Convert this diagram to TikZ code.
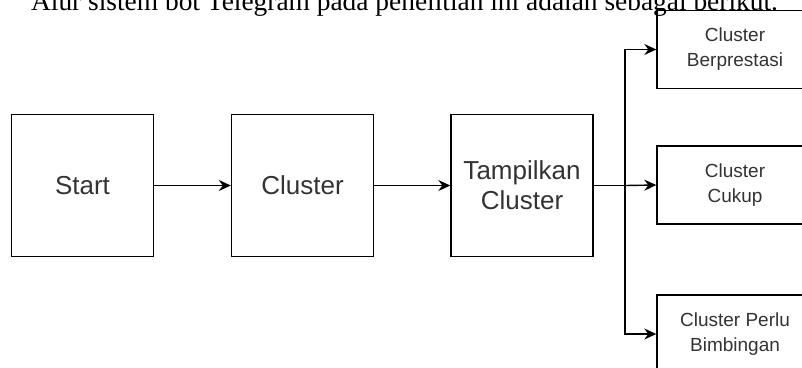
\documentclass[tikz,border=0pt]{standalone}
\usepackage{fontspec}
\setmainfont{Liberation Sans}
\newfontfamily\titlefont{Liberation Serif}
\usetikzlibrary{arrows.meta}
\definecolor{txt}{HTML}{333333}
\tikzset{
  bigbox/.style={draw=black, line width=1.4pt, minimum width=142pt, minimum height=142pt, inner sep=0pt, align=center, text=txt, font=\fontsize{26}{30}\selectfont},
  sidebox/.style={draw=black, line width=1.4pt, minimum width=156pt, minimum height=78pt, inner sep=0pt, align=center, text=txt, font=\fontsize{19}{25}\selectfont},
  arr/.style={draw=black, line width=1.4pt, -{Stealth[length=12pt,width=11pt,inset=4pt]}},
  ln/.style={draw=black, line width=1.4pt}
}
\begin{document}
\begin{tikzpicture}[x=1pt,y=-1pt]
\useasboundingbox (0,0) rectangle (802,367);
\clip (0,0) rectangle (802,367);
\node[anchor=base, font=\titlefont\fontsize{27.4}{30}\selectfont] (title) at (404.5,10) {Alur sistem bot Telegram pada penelitian ini adalah sebagai berikut.};
\node[bigbox] (start) at (82.5,185.5) {Start};
\node[bigbox] (cluster) at (302.5,185.5) {Cluster};
\node[bigbox] (tampil) at (522,185.5) {Tampilkan\\Cluster};
\node[sidebox] (b1) at (735,49.5) {Cluster\\Berprestasi};
\node[sidebox] (b2) at (735,185) {Cluster\\Cukup};
\node[sidebox] (b3) at (735,334) {Cluster Perlu\\Bimbingan};
\coordinate (j) at (625,185.5);
\draw[arr] (start) -- (cluster);
\draw[arr] (cluster) -- (tampil);
\draw[ln] (tampil.east) -- (j);
\draw[arr] (j) |- (b1.west);
\draw[arr] (j) -- (b2.west);
\draw[arr] (j) |- (b3.west);
\end{tikzpicture}
\end{document}
